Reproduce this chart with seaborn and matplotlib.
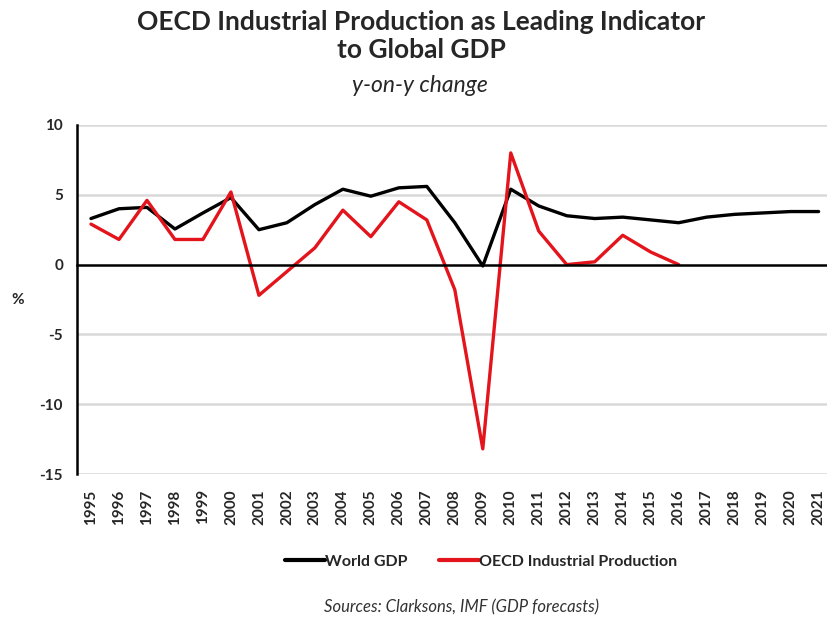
import matplotlib
matplotlib.use("Agg")
import matplotlib.pyplot as plt
import seaborn as sns
import numpy as np
import pandas as pd
from matplotlib.lines import Line2D

years = list(range(1995, 2022))
world_gdp = [3.3, 4.0, 4.1, 2.55, 3.7, 4.8, 2.5, 3.0, 4.3, 5.4, 4.9, 5.5, 5.6, 3.0, -0.1,
             5.4, 4.2, 3.5, 3.3, 3.4, 3.2, 3.0, 3.4, 3.6, 3.7, 3.8, 3.8]
oecd_ip = [2.9, 1.8, 4.6, 1.8, 1.8, 5.2, -2.2, -0.5, 1.2, 3.9, 2.0, 4.5, 3.2, -1.8, -13.2,
           8.0, 2.4, 0.0, 0.2, 2.1, 0.9, 0.0] + [np.nan] * 5
series_names = ["World GDP", "OECD Industrial Production"]
y_ticks = [10, 5, 0, -5, -10, -15]

df = pd.concat([
    pd.DataFrame({"year": years, "value": world_gdp, "series": series_names[0]}),
    pd.DataFrame({"year": years, "value": oecd_ip, "series": series_names[1]}),
]).dropna()

sns.set_theme(style="white")
plt.rcParams["font.family"] = ["Lato", "DejaVu Sans"]

RED = "#E3141C"
fig = plt.figure(figsize=(8.27, 6.23), dpi=100)
ax = fig.add_axes([77/827, 1 - 474/623, 1 - 77/827, (474 - 125)/623])

sns.lineplot(data=df, x="year", y="value", hue="series", palette=["black", RED],
             linewidth=2.4, ax=ax, legend=False, sort=False)

ax.set_xlim(1994.5, 2021.3)
ax.set_ylim(-15, 10)
ax.set_yticks(y_ticks)
ax.set_yticklabels([str(t) for t in y_ticks], fontweight="bold", fontsize=11)
for t in y_ticks:
    if t != 0:
        ax.axhline(t, color="#d9d9d9", lw=1.8, zorder=0)

for s in ["top", "right"]:
    ax.spines[s].set_visible(False)
ax.spines["left"].set_color("black")
ax.spines["left"].set_linewidth(1.8)
ax.spines["bottom"].set_position(("data", 0))
ax.spines["bottom"].set_color("black")
ax.spines["bottom"].set_linewidth(1.8)
ax.tick_params(axis="y", direction="out", length=4, width=1, color="black", pad=6)

ax.set_xticks(years)
ax.set_xticklabels([])
ax.tick_params(axis="x", which="major", length=0)
ax.set_xticks([y + 0.5 for y in years[:-1]], minor=True)
ax.tick_params(axis="x", which="minor", direction="out", length=4, width=1.3, color="black")
ax.set_xlabel("")
ax.set_ylabel("")

sec = ax.secondary_xaxis(0.0)
sec.set_xticks(years)
sec.set_xticklabels([str(y) for y in years], rotation=90, fontweight="bold", fontsize=11)
sec.tick_params(length=0, pad=11)
sec.spines["bottom"].set_visible(False)

fig.text(18/827, 1 - 300/623, "%", fontsize=11, fontweight="bold", ha="center", va="center")

fig.text(421/827, 1 - 22/623, "OECD Industrial Production as Leading Indicator",
         fontsize=19, fontweight="bold", ha="center", va="center")
fig.text(421/827, 1 - 50/623, "to Global GDP",
         fontsize=19, fontweight="bold", ha="center", va="center")
fig.text(420/827, 1 - 86/623, "y-on-y change", fontsize=16.5, style="italic",
         ha="center", va="center")

handles = [Line2D([0], [0], color="black", lw=3), Line2D([0], [0], color=RED, lw=3)]
leg = fig.legend(handles, series_names, loc="center", bbox_to_anchor=(481/827, 1 - 562/623),
                 ncol=2, frameon=False, handlelength=2.5, handletextpad=0.0, columnspacing=2.0,
                 prop={"weight": "bold", "size": 11.5})
fig.text(461/827, 1 - 607/623, "Sources: Clarksons, IMF (GDP forecasts)", fontsize=12,
         style="italic", ha="center", va="center", color="#333333")

fig.savefig("out.png", dpi=100)
